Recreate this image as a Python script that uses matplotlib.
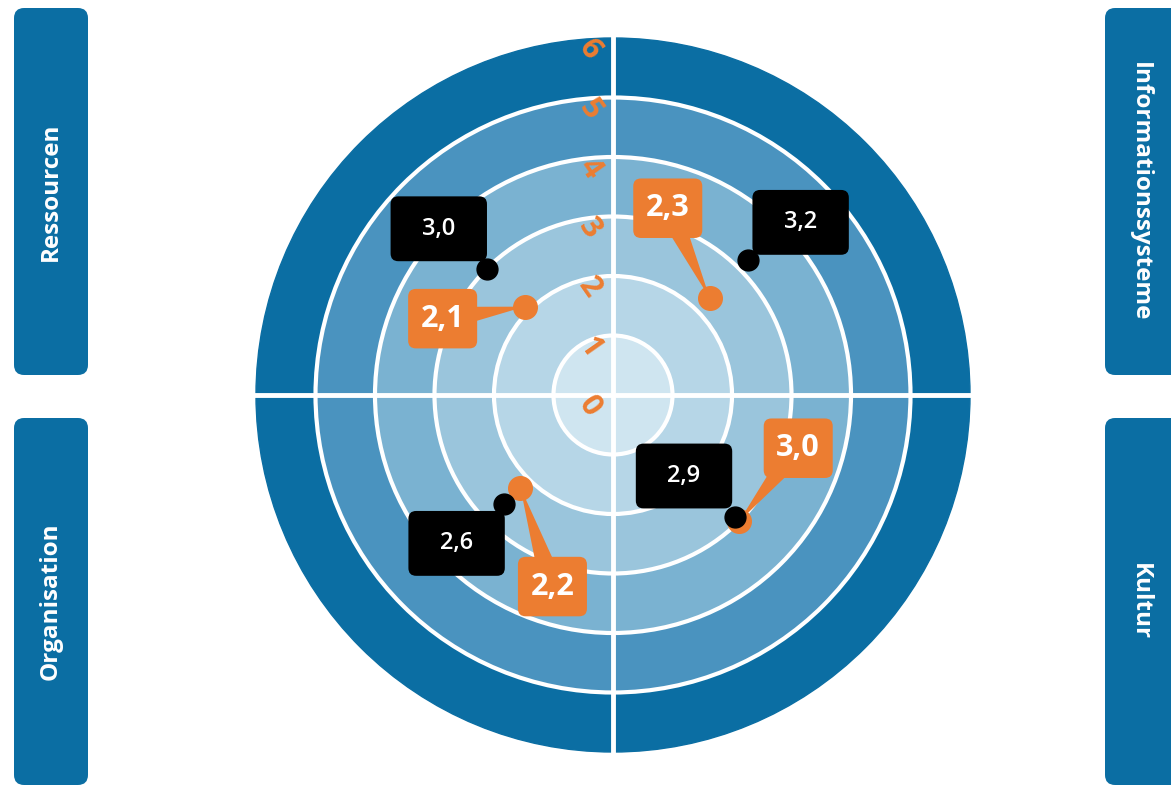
import numpy as np
import matplotlib.pyplot as plt
from matplotlib.patches import Circle, FancyBboxPatch, Polygon

# Daten
kategorien = ['Ressourcen', 'Informationssysteme', 'Organisation', 'Kultur']
werte_schwarz = [3.0, 3.2, 2.6, 2.9]
werte_orange = [2.1, 2.3, 2.2, 3.0]
skala = [0, 1, 2, 3, 4, 5, 6]

# Layout (Pixel des Originals)
W, H = 1171, 788
CX, CY = 613, 395
UNIT = 59.5
winkel = [135, 45, 225, 315]
# Versatz der Beschriftungsboxen zum Punkt (Pixel, y nach oben)
off_schwarz = [(-48, 40), (53, 38), (-47, -39), (-51, 41)]
off_orange = [(-82, -12), (-42, 90), (32, -99), (59, 73)]
# Seitenpanels: x0, y0, x1, y1 in Pixeln
panels = [(14, 8, 88, 375), (1105, 8, 1190, 375), (14, 418, 88, 785), (1105, 418, 1190, 785)]
panel_rot = [90, 270, 90, 270]

blau = '#0b6ea3'
orange = '#ec7d31'
ring_farben = ['#cfe5f0', '#b6d6e7', '#9ac5dc', '#7ab2d1', '#4a93bf', blau]

plt.rcParams['font.family'] = ['Open Sans', 'DejaVu Sans']

fig = plt.figure(figsize=(W / 100, H / 100), dpi=100)
ax = fig.add_axes([0, 0, 1, 1])
ax.set_xlim(-CX / UNIT, (W - CX) / UNIT)
ax.set_ylim(-(H - CY) / UNIT, CY / UNIT)
ax.axis('off')


def px(x, y):
    return (x - CX) / UNIT, (CY - y) / UNIT


# Ringe
for i in range(len(skala) - 1, 0, -1):
    ax.add_patch(Circle((0, 0), skala[i], color=ring_farben[i - 1], zorder=1))
for r in skala[1:-1]:
    ax.add_patch(Circle((0, 0), r, fill=False, ec='white', lw=3, zorder=2))
ax.plot([-6, 6], [0, 0], color='white', lw=3.5, zorder=2)
ax.plot([0, 0], [-6, 6], color='white', lw=3.5, zorder=2)

# Skalenbeschriftung
for s in skala:
    ax.text(-0.39, s - 0.2, str(s), color=orange, fontsize=22, fontweight='bold',
            rotation=-55, ha='center', va='center', zorder=3)

# Seitenpanels
for (x0, y0, x1, y1), name, rot in zip(panels, kategorien, panel_rot):
    ax0, ay1 = px(x0, y1)
    ax1, ay0 = px(x1, y0)
    ax.add_patch(FancyBboxPatch((ax0, ay1), ax1 - ax0, ay0 - ay1,
                                boxstyle='round,pad=0,rounding_size=0.17',
                                fc=blau, ec='none', zorder=1))
    tx = px(51 if x0 < 500 else 1140, 0)[0]
    ax.text(tx, (ay0 + ay1) / 2, name, rotation=rot, color='white', fontsize=17.5,
            fontweight='bold', ha='center', va='center', zorder=2)


def box(x, y, w, h, fc, z):
    ax.add_patch(FancyBboxPatch((x - w / 2, y - h / 2), w, h,
                                boxstyle='round,pad=0,rounding_size=0.13',
                                fc=fc, ec='none', zorder=z))


for i in range(len(kategorien)):
    a = np.radians(winkel[i])
    # orange
    ox, oy = werte_orange[i] * np.cos(a), werte_orange[i] * np.sin(a)
    bx, by = ox + off_orange[i][0] / UNIT, oy + off_orange[i][1] / UNIT
    d = np.array([ox - bx, oy - by])
    n = np.array([-d[1], d[0]]) / np.hypot(*d) * 0.2
    ax.add_patch(Polygon([(bx + n[0], by + n[1]), (bx - n[0], by - n[1]), (ox, oy)],
                         fc=orange, ec='none', zorder=4))
    box(bx, by, 1.16, 1.0, orange, 5)
    ax.plot(ox, oy, 'o', color=orange, ms=17, zorder=6)
    ax.text(bx, by, f'{werte_orange[i]:.1f}'.replace('.', ','), color='white',
            fontsize=22, fontweight='bold', ha='center', va='center', zorder=7)
    # schwarz
    sx, sy = werte_schwarz[i] * np.cos(a), werte_schwarz[i] * np.sin(a)
    bx, by = sx + off_schwarz[i][0] / UNIT, sy + off_schwarz[i][1] / UNIT
    box(bx, by, 1.62, 1.09, 'black', 8)
    ax.plot(sx, sy, 'o', color='black', ms=15, zorder=9)
    ax.text(bx, by, f'{werte_schwarz[i]:.1f}'.replace('.', ','), color='white',
            fontsize=17, fontweight='semibold', ha='center', va='center', zorder=10)

fig.savefig('out.png', dpi=100, facecolor='white')
